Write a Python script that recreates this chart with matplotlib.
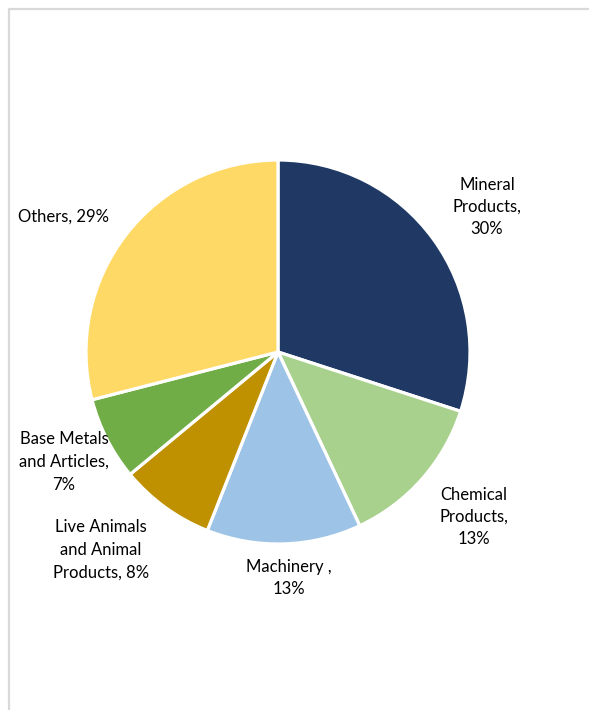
import matplotlib.pyplot as plt
from matplotlib.lines import Line2D

categories = ["Mineral\nProducts,\n30%", "Chemical\nProducts,\n13%", "Machinery ,\n13%",
              "Live Animals\nand Animal\nProducts, 8%", "Base Metals\nand Articles,\n7%", "Others, 29%"]
shares = [30, 13, 13, 8, 7, 29]
colors = ["#1f3864", "#a9d18e", "#9dc3e6", "#bf9000", "#70ad47", "#ffd966"]

# label anchor points in pixel space (x from left, y from top)
label_pos = [(487, 207), (474, 517), (289, 578), (101, 550), (64, 462), (63, 217)]

W, H = 589, 710
fig = plt.figure(figsize=(W / 100, H / 100), dpi=100)
ax = fig.add_axes([0, 0, 1, 1])
ax.set_xlim(0, W)
ax.set_ylim(0, H)
ax.set_aspect("equal")
ax.axis("off")

ax.pie(shares, colors=colors, startangle=90, counterclock=False,
       center=(278, H - 352), radius=192,
       wedgeprops=dict(edgecolor="white", linewidth=2.3))
ax.set_xlim(0, W)
ax.set_ylim(0, H)

for txt, (x, y) in zip(categories, label_pos):
    ax.text(x, H - y, txt, ha="center", va="center", fontsize=12,
            family="Lato", color="#000000", linespacing=1.5)

# chart frame, partly cropped
fig.add_artist(Line2D([9 / W, 9 / W, 1], [0, 1 - 9 / H, 1 - 9 / H],
                      transform=fig.transFigure, color="#d9d9d9", linewidth=1.6))

fig.savefig("out.png", dpi=100)
